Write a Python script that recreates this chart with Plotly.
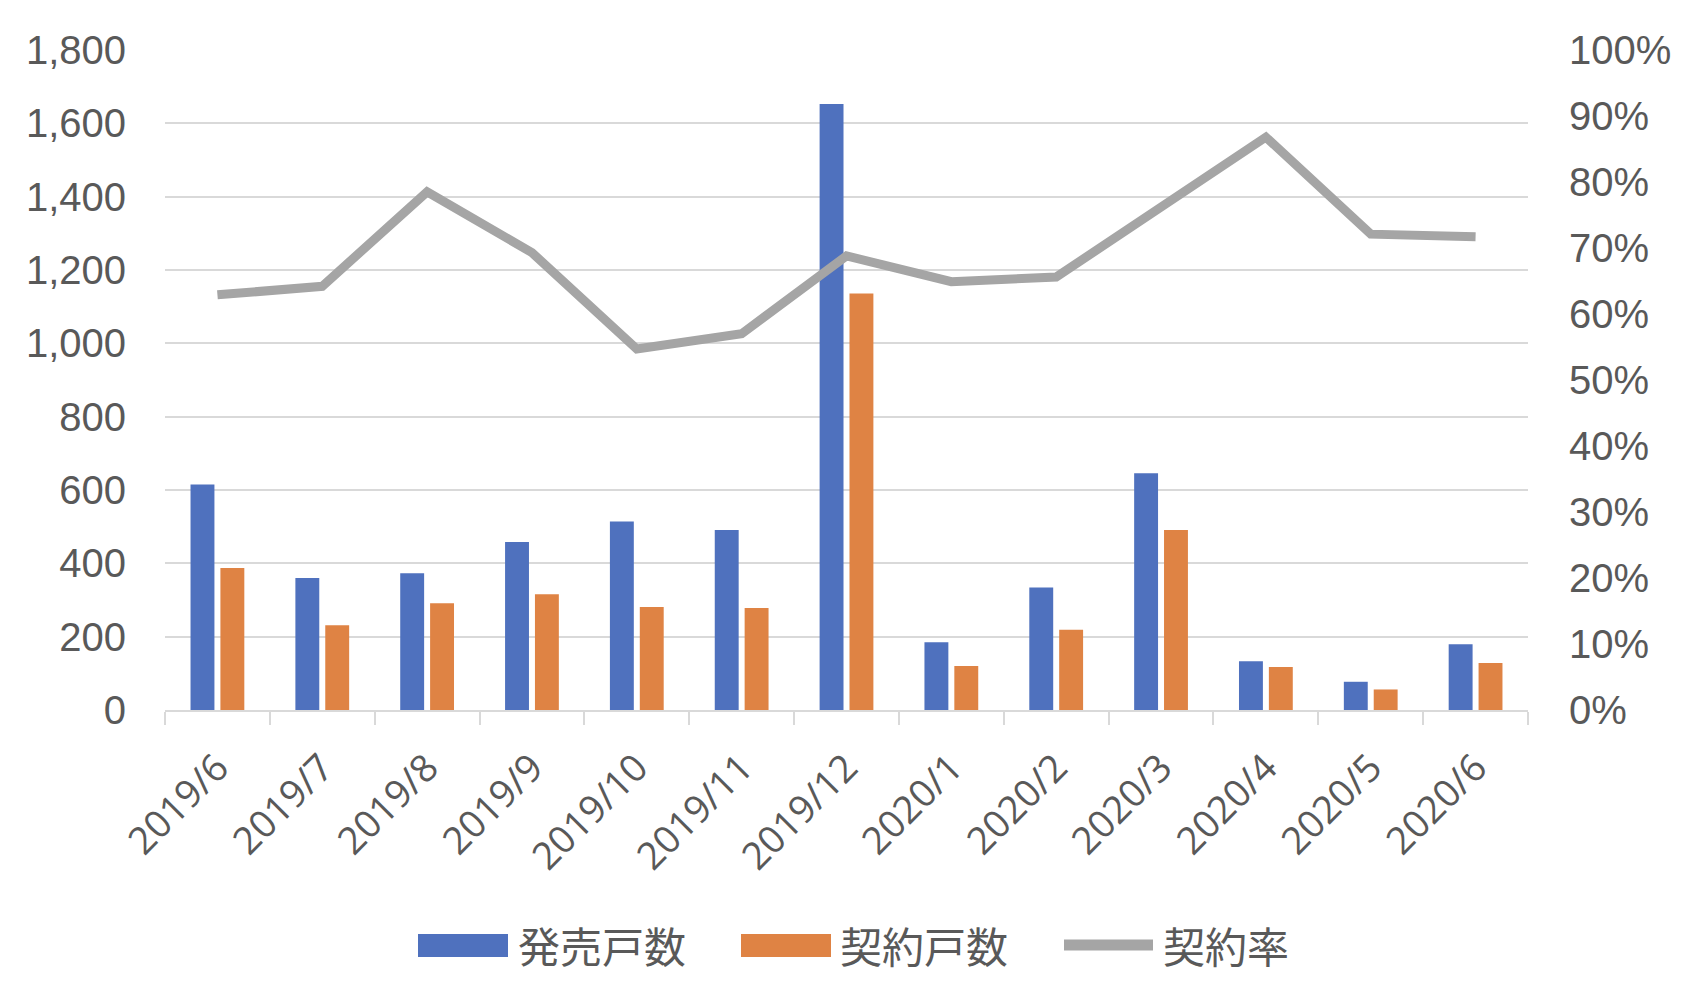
import plotly.graph_objects as go

months = ["2019/6", "2019/7", "2019/8", "2019/9", "2019/10", "2019/11", "2019/12",
          "2020/1", "2020/2", "2020/3", "2020/4", "2020/5", "2020/6"]
sold_units = [615, 360, 373, 458, 514, 491, 1653, 185, 334, 646, 133, 77, 179]
contract_units = [387, 231, 291, 316, 281, 278, 1136, 120, 219, 491, 117, 56, 128]
contract_rate = [0.629, 0.642, 0.785, 0.693, 0.547, 0.570, 0.688, 0.649, 0.656, 0.762, 0.868, 0.721, 0.717]

series_names = ["発売戸数", "契約戸数", "契約率"]
colors = ["#4F71BE", "#DF8344", "#A5A5A5"]
text_color = "#595959"
grid_color = "#D9D9D9"

W, H = 1690, 1002
L, R, T, B = 165, 162, 50, 292
pw, ph = W - L - R, H - T - B

def px_x(x):
    return (x - L) / pw

def px_y(y):
    return (H - B - y) / ph

fig = go.Figure()
fig.add_trace(go.Bar(x=months, y=sold_units, name=series_names[0],
                     marker=dict(color=colors[0], line=dict(width=0)), showlegend=False))
fig.add_trace(go.Bar(x=months, y=contract_units, name=series_names[1],
                     marker=dict(color=colors[1], line=dict(width=0)), showlegend=False))
fig.add_trace(go.Scatter(x=months, y=contract_rate, name=series_names[2], mode="lines",
                         line=dict(color=colors[2], width=9), yaxis="y2", showlegend=False))

shapes = [
    dict(type="rect", xref="paper", yref="paper", x0=px_x(418), x1=px_x(508),
         y0=px_y(957), y1=px_y(934), fillcolor=colors[0], line=dict(width=0)),
    dict(type="rect", xref="paper", yref="paper", x0=px_x(741), x1=px_x(831),
         y0=px_y(957), y1=px_y(934), fillcolor=colors[1], line=dict(width=0)),
    dict(type="path", xref="paper", yref="paper",
         path="M{},{} L{},{}".format(px_x(1064), px_y(945), px_x(1153), px_y(945)),
         line=dict(color=colors[2], width=11)),
]
legend_font = dict(family="Noto Sans CJK JP", size=42, color=text_color)
annotations = [
    dict(xref="paper", yref="paper", x=px_x(x), y=px_y(945), text=t, showarrow=False,
         xanchor="left", yanchor="middle", font=legend_font)
    for x, t in [(516, series_names[0]), (838, series_names[1]), (1161, series_names[2])]
]

tick_font = dict(family="Liberation Sans, Arial", size=40, color=text_color)

fig.update_layout(
    width=W, height=H,
    margin=dict(l=L, r=R, t=T, b=B),
    paper_bgcolor="white", plot_bgcolor="white",
    barmode="group", bargap=0.43, bargroupgap=0.2,
    shapes=shapes, annotations=annotations,
    xaxis=dict(
        type="category", tickangle=-45, tickson="boundaries", ticks="outside",
        ticklen=13, tickwidth=2, tickcolor=grid_color, showline=True, linecolor=grid_color,
        linewidth=2, showgrid=False, ticklabelstandoff=18,
        tickfont=dict(family="Open Sans", size=38, color=text_color),
    ),
    yaxis=dict(
        range=[0, 1800], dtick=200, tickformat=",", showgrid=True, gridcolor=grid_color,
        gridwidth=2, zeroline=False, showline=False, ticks="", ticklabelstandoff=38,
        tickfont=tick_font,
    ),
    yaxis2=dict(
        range=[0, 1], dtick=0.1, tickformat=".0%", overlaying="y", side="right",
        showgrid=False, zeroline=False, showline=False, ticks="", ticklabelstandoff=40,
        tickfont=tick_font,
    ),
)

fig.write_html("out.html")
